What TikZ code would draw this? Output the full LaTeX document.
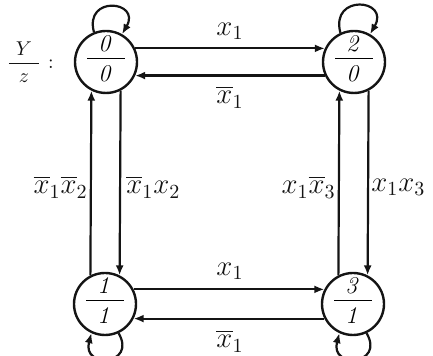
\documentclass[tikz,border=0pt]{standalone}
\usepackage{amsmath}
\usepackage{xcolor}
\usepackage{tikz}
\usetikzlibrary{arrows.meta}
\definecolor{ink}{RGB}{20, 20, 20}

\newcommand{\statefrac}[2]{\raisebox{-0.25em}{\smash{\makebox[0pt]{$\vcenter{\hbox to 19pt{\hss$\mathit{#1}$\hss}\kern3pt\hrule height 0.8pt\kern3.5pt\hbox to 19pt{\hss$\mathit{#2}$\hss}}$}}}}
\tikzset{
  state/.style={circle,draw=ink,line width=1.2pt,minimum size=31pt,inner sep=0pt,font=\large},
  trans/.style={ink,line width=1.1pt,-{Latex[length=5pt,width=4pt]}},
  lab/.style={font=\Large,ink,inner sep=0pt}
}

\begin{document}
\begin{tikzpicture}[x=0.5pt,y=0.5pt]
\useasboundingbox (0,0) rectangle (433,356);
\node[state] (s0) at (106,294) {\statefrac{0}{0}};
\node[state] (s2) at (354,294) {\statefrac{2}{0}};
\node[state] (s1) at (105,52) {\statefrac{1}{1}};
\node[state] (s3) at (353,52) {\statefrac{3}{1}};
\node[ink,anchor=east,inner sep=0pt,font=\normalsize] (yz) at (54,294) {$\dfrac{\makebox[15pt]{$Y$}}{z}$\ :};
% horizontal transitions
\draw[trans] (s0.25) -- (s2.155);
\draw[trans] (s2.205) -- (s0.335);
\draw[trans] (s1.27) -- (s3.153);
\draw[trans] (s3.207) -- (s1.333);
% vertical transitions
\draw[trans] (s1.117) -- (s0.243);
\draw[trans] (s0.297) -- (s1.63);
\draw[trans] (s3.117) -- (s2.243);
\draw[trans] (s2.297) -- (s3.63);
% self loops
\draw[trans] (s0.112) to[out=105,in=60,looseness=3.5] (s0.60);
\draw[trans] (s2.115) to[out=105,in=60,looseness=3.5] (s2.60);
\draw[trans] (s1.295) to[out=-60,in=-105,looseness=3.5] (s1.245);
\draw[trans] (s3.295) to[out=-60,in=-105,looseness=3.5] (s3.245);
% labels
\node[lab] (l02) at (230,325) {$x_1$};
\node[lab] (l20) at (230,259) {$\overline{x}_1$};
\node[lab] (l13) at (230,85) {$x_1$};
\node[lab] (l31) at (230,15) {$\overline{x}_1$};
\node[lab,anchor=east] (l10) at (88,169) {$\overline{x}_1\overline{x}_2$};
\node[lab,anchor=west] (l01) at (126,169) {$\overline{x}_1x_2$};
\node[lab,anchor=east] (l32) at (336,169) {$x_1\overline{x}_3$};
\node[lab,anchor=west] (l23) at (371,169) {$x_1x_3$};
\end{tikzpicture}
\end{document}
